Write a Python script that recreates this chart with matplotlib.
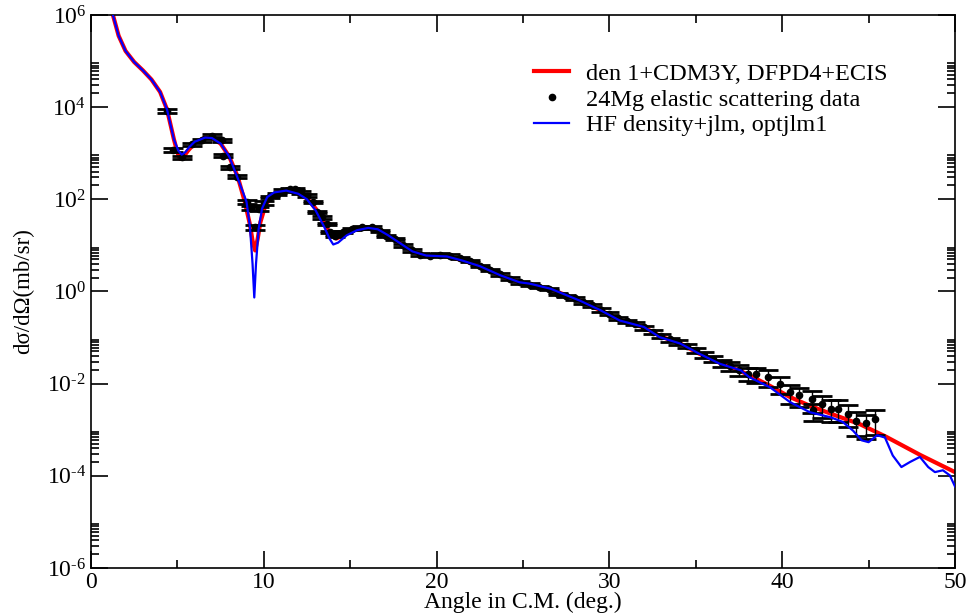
import matplotlib
matplotlib.use("Agg")
import matplotlib.pyplot as plt
import numpy as np
from matplotlib.lines import Line2D
from matplotlib.ticker import FixedLocator, FuncFormatter

plt.rcParams['font.family'] = ['Liberation Serif', 'DejaVu Serif']
plt.rcParams['mathtext.fontset'] = 'custom'
plt.rcParams['mathtext.rm'] = 'Liberation Serif'
plt.rcParams['mathtext.it'] = 'Liberation Serif:italic'

# red curve: den 1+CDM3Y, DFPD4+ECIS  (angle, log10 sigma)
red_ang = [1.0, 1.27, 1.6, 2.0, 2.5, 3.0, 3.5, 4.0, 4.4, 4.8, 5.0, 5.15, 5.35, 5.6,
           6.0, 6.6, 7.0, 7.5, 8.0, 8.5, 8.9, 9.2, 9.35, 9.5, 9.65, 9.8, 10.1, 10.5,
           11.0, 11.4, 12.0, 12.5, 13.0, 13.5, 13.9, 14.2, 14.6, 15.2, 16.0, 16.6,
           17.2, 18.0, 18.6, 19.4, 20.6, 21.5, 22.5, 23.7, 24.8, 25.4, 26.6, 28.3,
           29.5, 30.6, 32.0, 33.0, 34.1, 35.2, 36.4, 37.6, 38.1, 39.3, 40.45, 41.6,
           42.8, 44.5, 46.0, 48.0, 50.0]
red_log = [6.6, 6.0, 5.55, 5.22, 4.98, 4.80, 4.60, 4.33, 3.95, 3.30, 3.02, 2.88, 2.92, 3.05,
           3.22, 3.34, 3.33, 3.21, 2.93, 2.48, 1.95, 1.45, 1.10, 0.89, 1.15, 1.50, 1.88, 2.08,
           2.18, 2.20, 2.12, 2.02, 1.80, 1.48, 1.22, 1.15, 1.22, 1.33, 1.38, 1.35,
           1.22, 1.02, 0.87, 0.78, 0.76, 0.68, 0.55, 0.35, 0.20, 0.15, 0.05, -0.20,
           -0.41, -0.62, -0.78, -0.98, -1.13, -1.35, -1.55, -1.73, -1.82, -2.05, -2.29, -2.48,
           -2.65, -2.88, -3.15, -3.55, -3.92]

# blue curve: HF density+jlm, optjlm1
blue_ang = [1.0, 1.27, 1.6, 2.0, 2.5, 3.0, 3.5, 4.0, 4.4, 4.8, 5.05, 5.25, 5.45, 5.7,
            6.0, 6.6, 7.0, 7.5, 8.0, 8.5, 9.0, 9.2, 9.35, 9.45, 9.55, 9.7, 9.9, 10.2,
            10.6, 11.3, 12.0, 12.5, 13.0, 13.5, 13.8, 14.02, 14.3, 14.8, 15.4, 16.05,
            16.6, 17.2, 18.0, 18.6, 19.4, 20.6, 21.5, 22.5, 23.7, 24.8, 25.4, 26.6,
            28.3, 29.5, 30.6, 32.0, 32.9, 34.1, 35.2, 36.4, 37.6, 38.1, 39.3, 40.45,
            41.6, 42.8, 43.5, 44.1, 44.6, 45.0, 45.5, 45.95, 46.4, 46.9, 47.4, 47.97,
            48.45, 48.84, 49.3, 49.7, 50.0]
blue_log = [6.6, 6.0, 5.55, 5.22, 4.98, 4.80, 4.60, 4.33, 3.95, 3.30, 3.06, 2.97, 3.02, 3.14,
            3.25, 3.34, 3.33, 3.21, 2.93, 2.45, 1.95, 1.40, 0.60, -0.13, 0.60, 1.35, 1.80, 2.05,
            2.15, 2.19, 2.12, 2.00, 1.76, 1.40, 1.15, 1.02, 1.06, 1.22, 1.33, 1.38,
            1.35, 1.22, 1.02, 0.87, 0.78, 0.76, 0.67, 0.55, 0.35, 0.20, 0.17, 0.06,
            -0.20, -0.41, -0.63, -0.77, -0.99, -1.13, -1.35, -1.57, -1.71, -1.86, -2.08, -2.40,
            -2.62, -2.73, -2.83, -3.02, -3.23, -3.27, -3.12, -3.17, -3.56, -3.81, -3.70, -3.59,
            -3.81, -3.92, -3.88, -3.99, -4.23]

# 24Mg elastic scattering data (angle, log10 sigma, relative error)
data_ang = [4.38, 4.77, 5.25, 5.83, 6.40, 6.98, 7.56, 7.66, 8.04, 8.43, 9.00, 9.25, 9.50,
            9.75, 10.0, 10.36, 10.74, 11.1, 11.5, 11.8, 12.15, 12.48, 12.85, 13.1, 13.35,
            13.64, 13.83, 14.12, 14.6, 15.09, 15.67, 16.24, 16.72, 17.1, 17.6, 18.07,
            18.56, 19.04, 19.6, 20.2, 20.8, 21.35, 21.93, 22.5, 23.09, 23.67, 24.25, 24.8,
            25.4, 25.9, 26.5, 27.0, 27.5, 28.0, 28.5, 29.0, 29.5, 30.0, 30.5, 31.0, 31.5,
            32.0, 32.5, 33.0, 33.5, 34.0, 34.5, 35.0, 35.5, 36.0, 36.5, 37.0, 37.5, 38.0,
            38.5, 39.2, 39.9, 40.45, 41.0, 41.7, 41.8, 42.3, 42.8, 43.25, 43.8, 44.3,
            44.85, 45.4]
data_log = [3.91, 3.07, 2.91, 3.20, 3.28, 3.38, 3.28, 2.95, 2.70, 2.49, 1.95, 1.82, 1.40,
            1.80, 1.92, 2.05, 2.12, 2.19, 2.22, 2.23, 2.15, 2.08, 1.94, 1.72, 1.61,
            1.47, 1.29, 1.21, 1.29, 1.36, 1.39, 1.39, 1.32, 1.21, 1.14, 1.00,
            0.89, 0.80, 0.78, 0.80, 0.78, 0.73, 0.66, 0.56, 0.47, 0.37, 0.28, 0.20,
            0.15, 0.10, 0.05, -0.05, -0.10, -0.15, -0.23, -0.30, -0.40, -0.48, -0.58, -0.65, -0.70,
            -0.78, -0.88, -0.97, -1.04, -1.10, -1.18, -1.27, -1.38, -1.47, -1.55, -1.62, -1.70, -1.78,
            -1.80, -1.85, -2.00, -2.18, -2.25, -2.33, -2.58, -2.45, -2.54, -2.54, -2.65, -2.80,
            -2.86, -2.76]
data_rel = [0.10, 0.08, 0.08, 0.08, 0.08, 0.08, 0.08, 0.08, 0.08, 0.08, 0.10, 0.10, 0.12,
            0.10, 0.08, 0.06, 0.06, 0.06, 0.06, 0.06, 0.06, 0.06, 0.06, 0.06, 0.06,
            0.06, 0.06, 0.06, 0.06, 0.06, 0.06, 0.06, 0.06, 0.06, 0.06, 0.06,
            0.06, 0.06, 0.06, 0.06, 0.06, 0.06, 0.06, 0.06, 0.06, 0.06, 0.06, 0.06,
            0.06, 0.06, 0.06, 0.06, 0.06, 0.08, 0.08, 0.08, 0.08, 0.08, 0.08, 0.08, 0.08,
            0.10, 0.10, 0.10, 0.10, 0.12, 0.12, 0.12, 0.15, 0.15, 0.18, 0.20, 0.25, 0.30,
            0.35, 0.40, 0.40, 0.45, 0.45, 0.50, 0.40, 0.50, 0.50, 0.50, 0.50, 0.55,
            0.55, 0.55]

red_y = 10.0 ** np.array(red_log)
blue_y = 10.0 ** np.array(blue_log)
data_y = 10.0 ** np.array(data_log)
data_err = data_y * np.array(data_rel)

fig = plt.figure(figsize=(9.71, 6.16), dpi=100)
ax = fig.add_axes([0.0937, 0.078, 0.8898, 0.8976])

ax.plot(red_ang, red_y, color='#ff0000', lw=3.0, zorder=2)
ax.errorbar(data_ang, data_y, yerr=data_err, fmt='o', ms=4.5, color='black',
            ecolor='black', elinewidth=1.0, capsize=7, capthick=2.0, zorder=3)
ax.plot(blue_ang, blue_y, color='#0000ff', lw=1.6, zorder=4)

ax.set_yscale('log')
ax.set_xlim(0, 50)
ax.set_ylim(1e-6, 1e6)


def ylab(v, p):
    e = int(round(np.log10(v)))
    if e < 0:
        return r'$10^{\text{-}%d}$' % (-e)
    return r'$10^{%d}$' % e


ax.set_xticks([0, 10, 20, 30, 40, 50])
ax.xaxis.set_minor_locator(FixedLocator([5, 15, 25, 35, 45]))
ax.set_yticks([10.0 ** e for e in range(-6, 7, 2)])
ax.yaxis.set_minor_locator(FixedLocator([k * 10.0 ** e for e in range(-6, 6, 2) for k in range(2, 10)]))
ax.yaxis.set_major_formatter(FuncFormatter(ylab))
ax.yaxis.set_minor_formatter(FuncFormatter(lambda v, p: ''))

ax.tick_params(which='both', direction='in', top=True, right=True, labelsize=17, width=1.2)
ax.tick_params(which='major', length=12)
ax.tick_params(which='minor', length=6)
ax.tick_params(axis='x', pad=3)
for s in ax.spines.values():
    s.set_linewidth(1.2)

ax.set_xlabel('Angle in C.M. (deg.)', fontsize=17, labelpad=-1)
ax.set_ylabel('dσ/dΩ(mb/sr)', fontsize=16.5, labelpad=9)

handles = [Line2D([], [], color='#ff0000', lw=3.0),
           Line2D([], [], color='black', marker='o', ms=4.5, ls='none'),
           Line2D([], [], color='#0000ff', lw=1.6)]
labels = ['den 1+CDM3Y, DFPD4+ECIS', '24Mg elastic scattering data', 'HF density+jlm, optjlm1']
ax.legend(handles, labels, loc='upper left', bbox_to_anchor=(0.488, 0.953), frameon=False,
          fontsize=17.5, handlelength=1.4, handletextpad=0.7, labelspacing=0.15)

fig.savefig('out.png', dpi=100)
